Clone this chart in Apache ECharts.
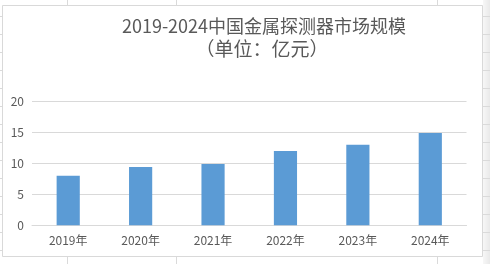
<!DOCTYPE html>
<html><head><meta charset="utf-8">
<script src="https://cdn.jsdelivr.net/npm/echarts@6/dist/echarts.min.js"></script>
<style>html,body{margin:0;padding:0;background:#fff}#c{width:490px;height:264px}</style>
</head><body><div id="c"></div>
<script>
const categories = ['2019年','2020年','2021年','2022年','2023年','2024年'];
const marketSize = [8, 9.4, 9.9, 12, 13, 14.9];
const yTicks = [0, 5, 10, 15, 20];
const titleLine1 = '2019-2024中国金属探测器市场规模';
const titleLine2 = '（单位：亿元）';

const chart = echarts.init(document.getElementById('c'), null, {renderer:'canvas'});
const font = '"Noto Sans CJK SC","Noto Sans",sans-serif';
const cellLine = '#dadada';
const bg = [];
// spreadsheet cells outside the chart area
bg.push({type:'rect', shape:{x:483,y:0,width:7,height:264}, style:{fill:new echarts.graphic.LinearGradient(0,0,1,0,[{offset:0,color:'#f7f7f7'},{offset:1,color:'#e9e9e9'}])}, silent:true, z:-10});
[67,176,437].forEach(x=>{
  bg.push({type:'line', shape:{x1:x+0.5,y1:0,x2:x+0.5,y2:5}, style:{stroke:cellLine,lineWidth:1}, silent:true, z:-9});
  bg.push({type:'line', shape:{x1:x+0.5,y1:257,x2:x+0.5,y2:264}, style:{stroke:cellLine,lineWidth:1}, silent:true, z:-9});
});
for (let y=16; y<264; y+=18){
  bg.push({type:'line', shape:{x1:0,y1:y+0.5,x2:2,y2:y+0.5}, style:{stroke:cellLine,lineWidth:1}, silent:true, z:-9});
  bg.push({type:'line', shape:{x1:483,y1:y+0.5,x2:490,y2:y+0.5}, style:{stroke:cellLine,lineWidth:1}, silent:true, z:-9});
}
// chart area border
bg.push({type:'rect', shape:{x:2.5,y:5.5,width:480,height:251}, style:{fill:'#fff',stroke:'#d9d9d9',lineWidth:1}, silent:true, z:-8});
// title
bg.push({type:'text', x:264, y:26, style:{text:titleLine1, font:'18px '+font, fill:'#595959', textAlign:'center', textVerticalAlign:'middle'}, z:5});
bg.push({type:'text', x:262, y:49, style:{text:titleLine2, font:'19px '+font, fill:'#595959', textAlign:'center', textVerticalAlign:'middle'}, z:5});

chart.setOption({
  animation:false,
  backgroundColor:'transparent',
  graphic:{elements:bg},
  grid:{left:32, right:23.5, top:101.3, bottom:38.7, containLabel:false},
  xAxis:{type:'category', data:categories,
    axisLine:{show:true, lineStyle:{color:'#d9d9d9', width:1}},
    axisTick:{show:false},
    axisLabel:{color:'#595959', fontSize:12, fontFamily:font, margin:9}},
  yAxis:{type:'value', min:yTicks[0], max:yTicks[yTicks.length-1], interval:5,
    axisLine:{show:false}, axisTick:{show:false},
    splitLine:{lineStyle:{color:'#d9d9d9', width:1}},
    axisLabel:{color:'#595959', fontSize:12, fontFamily:font, margin:8}},
  series:[{type:'bar', data:marketSize, barWidth:'32%', itemStyle:{color:'#5b9bd5'}}]
});
</script></body></html>
